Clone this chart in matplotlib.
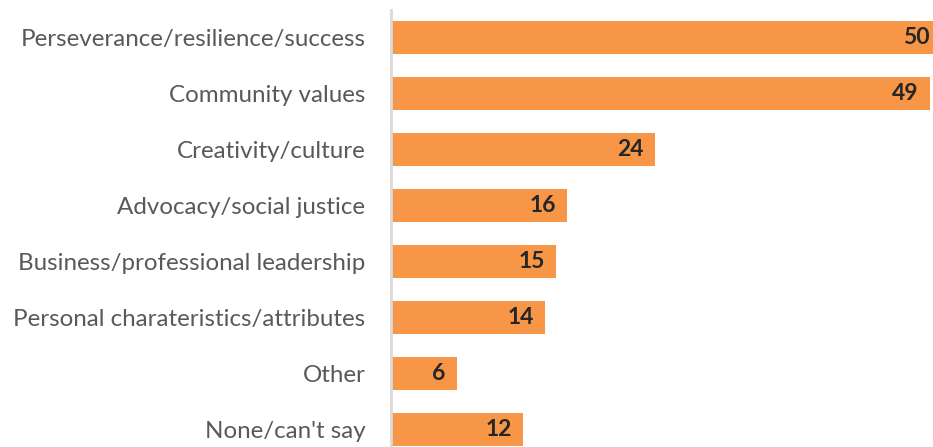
import matplotlib.pyplot as plt

categories = [
    "Perseverance/resilience/success",
    "Community values",
    "Creativity/culture",
    "Advocacy/social justice",
    "Business/professional leadership",
    "Personal charateristics/attributes",
    "Other",
    "None/can't say",
]
values = [50, 49, 24, 16, 15, 14, 6, 12]

bar_color = "#F79646"

plt.rcParams['font.family'] = ['Lato', 'DejaVu Sans']

fig = plt.figure(figsize=(9.33, 4.47), dpi=100)
ax = fig.add_axes([391 / 933, 0, 1 - 391 / 933, 1 - 10 / 447])

ypos = list(range(len(categories)))
ax.barh(ypos, values, height=0.59, color=bar_color)

ax.set_xlim(0, 49.3)
ax.set_ylim(7.3125, -0.49)

for y, v in zip(ypos, values):
    ax.annotate(str(v), xy=(v, y), xytext=(-8, 0), textcoords="offset points",
                ha="right", va="center", fontsize=16.5, fontweight="bold",
                color="#262626", annotation_clip=False)

ax.set_yticks(ypos)
ax.set_yticklabels(categories, fontsize=17.4, color="#595959")
ax.tick_params(axis="y", length=0, pad=18.5)
ax.set_xticks([])

for s in ["top", "right", "bottom"]:
    ax.spines[s].set_visible(False)
ax.spines["left"].set_color("#D9D9D9")
ax.spines["left"].set_linewidth(2)

fig.savefig("out.png", dpi=100)
